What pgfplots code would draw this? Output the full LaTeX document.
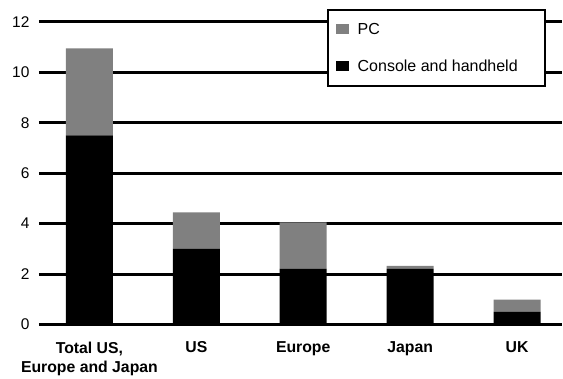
\documentclass[border=0pt]{standalone}
\usepackage{pgfplots}
\pgfplotsset{compat=1.18}
\usepackage{fontspec}
\setmainfont{Liberation Sans}
\definecolor{pcgray}{RGB}{128,128,128}

% Console and handheld (bottom) and PC (top), in the same category order
\pgfplotstableread{
x console pc
0 7.5  3.45
1 3.0  1.45
2 2.2  1.85
3 2.2  0.12
4 0.5  0.48
}\salesdata

\begin{document}
\begin{tikzpicture}
\begin{axis}[
  name=main,
  scale only axis,
  width=523pt, height=302.7pt,
  ybar stacked,
  bar width=47pt,
  xmin=-0.472, xmax=4.416,
  ymin=0, ymax=12,
  xtick={0,1,2,3,4},
  xticklabels={{Total US,\\Europe and Japan},US,Europe,Japan,UK},
  ytick={0,2,4,6,8,10,12},
  major tick length=0pt,
  axis line style={draw=none},
  ymajorgrids,
  grid style={black, line width=3pt},
  /pgf/number format/assume math mode=true,
  yticklabel style={font=\fontsize{15.5}{18}\selectfont, xshift=-6pt},
  xticklabel style={font=\fontsize{15.8}{19}\selectfont\bfseries, align=center, yshift=-14pt},
  reverse legend,
  legend cell align=left,
  legend image code/.code={\fill[#1] (0pt,-5pt) rectangle (13pt,5pt);},
  legend style={
    at={(rel axis cs:0.5507,1.043)}, anchor=north west,
    draw=black, line width=2pt, fill=white,
    font=\fontsize{16}{18}\selectfont,
    inner xsep=8pt, inner ysep=10pt,
    row sep=18pt,
    nodes={inner sep=3pt},
    /tikz/every odd column/.append style={column sep=6pt},
  },
]
\addplot[fill=black, draw=none] table[x=x, y=console] {\salesdata};
\addlegendentry{Console and handheld\hspace*{16pt}}
\addplot[fill=pcgray, draw=none] table[x=x, y=pc] {\salesdata};
\addlegendentry{PC}
\end{axis}
% page margins around the plot area
\path (main.south west) ++(-39pt,-49pt) rectangle ([shift={(1pt,22pt)}]main.north east);
\end{tikzpicture}
\end{document}
